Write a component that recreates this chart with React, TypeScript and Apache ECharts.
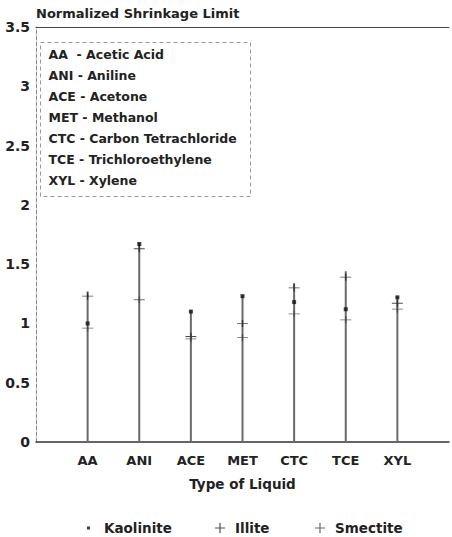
import React, { useEffect, useRef } from "react";
import * as echarts from "echarts";

const categories = ["AA", "ANI", "ACE", "MET", "CTC", "TCE", "XYL"];
const kaolinite = [1.0, 1.67, 1.1, 1.23, 1.18, 1.12, 1.22];
const illite = [1.23, 1.63, 0.89, 1.0, 1.3, 1.39, 1.17];
const smectite = [0.96, 1.2, 0.87, 0.88, 1.08, 1.03, 1.12];
const lineTops = [1.27, 1.68, 1.11, 1.24, 1.34, 1.44, 1.23];
const yTicks = [0, 0.5, 1, 1.5, 2, 2.5, 3, 3.5];
const liquidNames = [
  "AA  - Acetic Acid",
  "ANI - Aniline",
  "ACE - Acetone",
  "MET - Methanol",
  "CTC - Carbon Tetrachloride",
  "TCE - Trichloroethylene",
  "XYL - Xylene",
];

const FONT = "'DejaVu Sans', 'Liberation Sans', Arial, sans-serif";
const PLUS = "path://M0,4.4H10V5.6H0Z M4.4,0H5.6V10H4.4Z";

export default function App() {
  const ref = useRef<HTMLDivElement>(null);
  useEffect(() => {
    if (!ref.current) return;
    const chart = echarts.init(ref.current, null, { renderer: "svg" });
    const xCats = ["", ...categories, ""];
    const pad = (arr: number[]) => ["-", ...arr, "-"];
    const legendText = { fontFamily: FONT, fontSize: 13.5, fontWeight: "bold", color: "#222" };
    const legendBase = { top: 521, padding: 0, itemWidth: 10, itemHeight: 10 };
    chart.setOption({
      animation: false,
      backgroundColor: "#fff",
      textStyle: { fontFamily: FONT },
      grid: { left: 36, right: 1, top: 27, bottom: 95 },
      xAxis: [
        {
          type: "category",
          data: xCats,
          boundaryGap: false,
          axisLine: { lineStyle: { color: "#333", width: 1.5 } },
          axisTick: { show: false },
          axisLabel: { fontFamily: FONT, fontSize: 13, fontWeight: "bold", color: "#222", margin: 12, interval: 0 },
          name: "Type of Liquid",
          nameLocation: "middle",
          nameGap: 35,
          nameTextStyle: { fontFamily: FONT, fontSize: 13.5, fontWeight: "bold", color: "#222" },
          splitLine: { show: false },
        },
        {
          type: "category",
          data: xCats,
          boundaryGap: false,
          position: "top",
          axisLine: { lineStyle: { color: "#444", width: 1 } },
          axisTick: { show: false },
          axisLabel: { show: false },
        },
      ],
      yAxis: {
        type: "value",
        min: 0,
        max: 3.5,
        interval: 0.5,
        name: "Normalized Shrinkage Limit",
        nameLocation: "end",
        nameGap: 7,
        nameTextStyle: { fontFamily: FONT, fontSize: 13, fontWeight: "bold", color: "#222", align: "left" },
        axisLine: { show: true, lineStyle: { color: "#888", type: "dashed", width: 1 } },
        axisTick: { show: false },
        splitLine: { show: false },
        axisLabel: {
          fontFamily: FONT,
          fontSize: 14,
          fontWeight: "bold",
          color: "#222",
          margin: 6,
          formatter: (v: number) => (yTicks.includes(v) ? String(v) : ""),
        },
      },
      legend: [
        { ...legendBase, data: [{ name: "Kaolinite", icon: "rect" }], left: 87, itemWidth: 3, itemHeight: 3, textStyle: { ...legendText, padding: [0, 0, 0, 9] } },
        { ...legendBase, data: [{ name: "Illite", icon: PLUS }], left: 215, textStyle: { ...legendText, padding: [0, 0, 0, 5] } },
        { ...legendBase, data: [{ name: "Smectite", icon: PLUS }], left: 315, textStyle: { ...legendText, padding: [0, 0, 0, 5] } },
      ],
      graphic: [
        {
          type: "group",
          left: 40,
          top: 42,
          children: [
            {
              type: "rect",
              shape: { x: 0, y: 0, width: 210, height: 154 },
              style: { fill: "#fff", stroke: "#999", lineWidth: 1, lineDash: [4, 3] },
            },
            ...liquidNames.map((t, i) => ({
              type: "text",
              x: 8,
              y: 12 + i * 21,
              style: { text: t, fontFamily: FONT, fontSize: 12.5, fontWeight: "bold", fill: "#222", verticalAlign: "middle" },
            })),
          ],
        },
      ],
      series: [
        {
          type: "bar",
          name: "range",
          data: pad(lineTops),
          barWidth: 2,
          itemStyle: { color: "#6a6a6a" },
          silent: true,
          legendHoverLink: false,
        },
        {
          type: "scatter",
          name: "Kaolinite",
          data: pad(kaolinite),
          symbol: "rect",
          symbolSize: 4,
          itemStyle: { color: "#111" },
          z: 5,
        },
        {
          type: "scatter",
          name: "Illite",
          data: pad(illite),
          symbol: PLUS,
          symbolSize: [11, 7],
          itemStyle: { color: "#222" },
          z: 4,
        },
        {
          type: "scatter",
          name: "Smectite",
          data: pad(smectite),
          symbol: PLUS,
          symbolSize: [11, 7],
          itemStyle: { color: "#444" },
          z: 4,
        },
      ],
    });
    return () => chart.dispose();
  }, []);
  return <div ref={ref} style={{ position: "fixed", left: 0, top: 0, width: 452, height: 537 }} />;
}
